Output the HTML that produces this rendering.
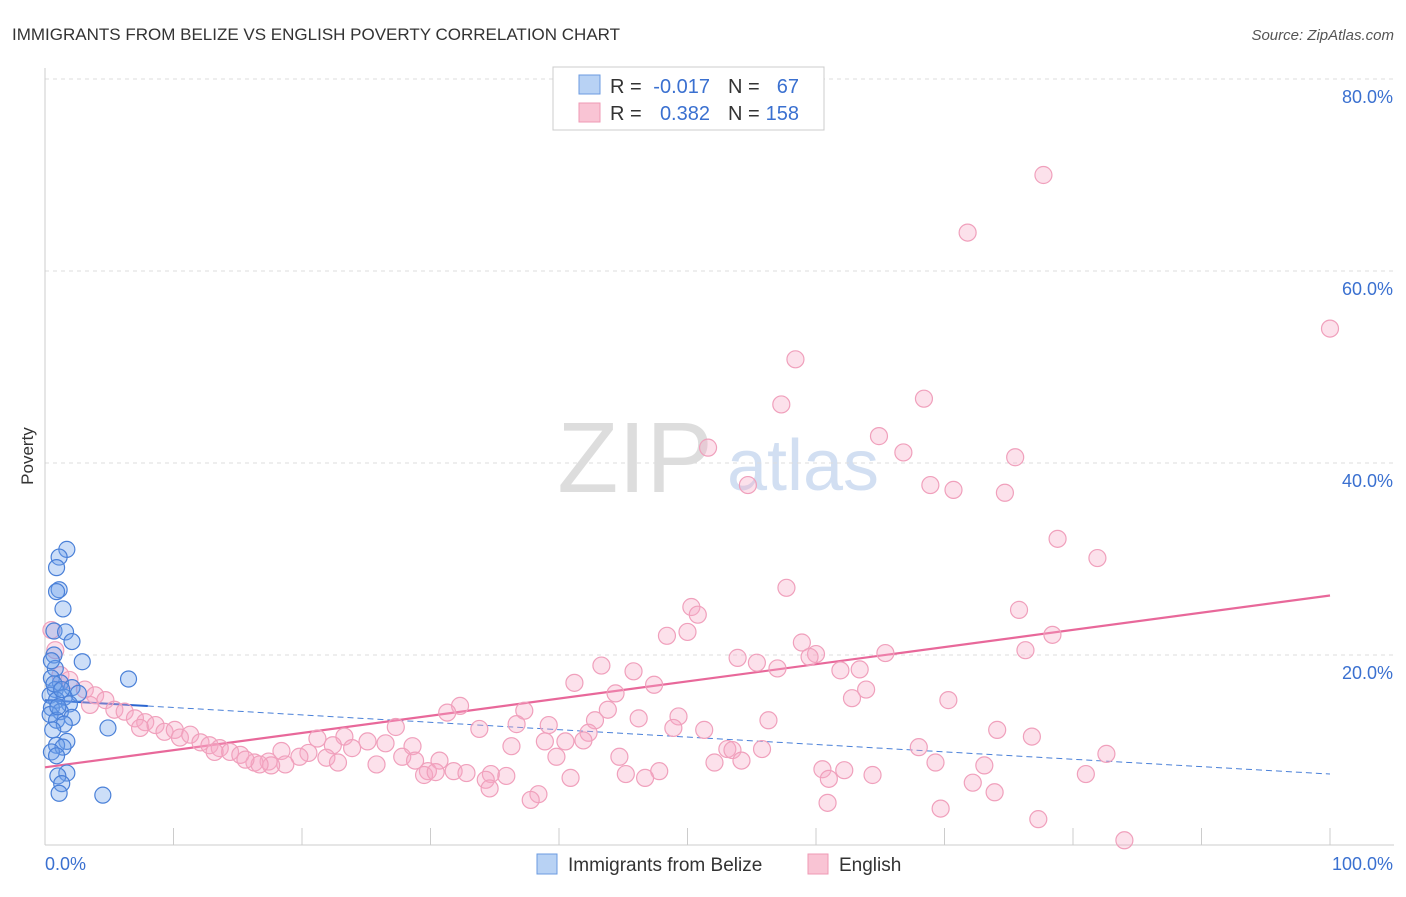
<!DOCTYPE html>
<html><head><meta charset="utf-8"><style>
body{margin:0;background:#fff;font-family:"Liberation Sans",sans-serif;}
svg text{font-family:"Liberation Sans",sans-serif;}
</style></head><body>
<svg id="chart" width="1406" height="892">
<text x="12" y="40" font-size="17" fill="#333">IMMIGRANTS FROM BELIZE VS ENGLISH POVERTY CORRELATION CHART</text>
<text x="1394" y="40" font-size="15" fill="#555" font-style="italic" text-anchor="end">Source: ZipAtlas.com</text>
<text x="33" y="456" font-size="17" fill="#333" transform="rotate(-90 33 456)" text-anchor="middle">Poverty</text>
<g><text x="635" y="492" font-size="100" fill="#ddd" font-family="Liberation Serif" text-anchor="middle">ZIP</text><text x="803" y="490" font-size="72" fill="#c8d8f0" text-anchor="middle" opacity="0.8">atlas</text></g>
<g id="grid"></g><g id="axes"></g><g id="trend"></g><g id="pts"></g>
<g>
<rect x="553" y="67" width="271" height="63" fill="#fff" stroke="#ccc"/>
<rect x="579" y="75" width="21" height="19" fill="#b8d2f4" stroke="#6b9be0"/>
<rect x="579" y="103" width="21" height="19" fill="#f9c4d4" stroke="#ef9ab4"/>
<text x="610" y="93" font-size="20" fill="#333">R =</text>
<text x="710" y="93" font-size="20" fill="#3a70d0" text-anchor="end">-0.017</text>
<text x="728" y="93" font-size="20" fill="#333">N =</text>
<text x="799" y="93" font-size="20" fill="#3a70d0" text-anchor="end">67</text>
<text x="610" y="120" font-size="20" fill="#333">R =</text>
<text x="710" y="120" font-size="20" fill="#3a70d0" text-anchor="end">0.382</text>
<text x="728" y="120" font-size="20" fill="#333">N =</text>
<text x="799" y="120" font-size="20" fill="#3a70d0" text-anchor="end">158</text>
</g>
<g>
<rect x="537" y="854" width="20" height="20" fill="#b8d2f4" stroke="#6b9be0"/>
<text x="568" y="871" font-size="19" fill="#333">Immigrants from Belize</text>
<rect x="808" y="854" width="20" height="20" fill="#f9c4d4" stroke="#ef9ab4"/>
<text x="839" y="871" font-size="19" fill="#333">English</text>
</g>
</svg>
<script>
const yTicks=[20,40,60,80];
const xTickLabels=["0.0%","100.0%"];
const blueX=[1.7,1.1,0.9,1.1,0.9,1.4,0.7,1.6,2.1,0.7,2.9,0.8,6.5,0.5,1.2,2.1,0.8,2.6,0.4,1.5,0.9,1.9,0.5,1.2,0.4,2.1,0.9,1.5,4.9,0.6,1.7,0.9,1.4,0.5,0.9,1.7,1.0,1.3,1.1,4.5,0.5,1.0,0.7,1.3];
const blueY=[31.0,30.2,29.1,26.8,26.6,24.8,22.5,22.4,21.4,20.0,19.3,18.6,17.5,17.6,17.1,16.6,16.4,16.0,15.8,15.6,15.3,14.9,14.5,14.1,13.8,13.5,13.2,12.8,12.4,12.2,11.0,10.6,10.4,9.9,9.5,7.7,7.4,6.6,5.6,5.4,19.4,14.6,17.0,16.4];
const pinkX=[77.7,71.8,100,58.4,57.3,68.4,51.6,64.9,66.8,75.5,54.7,68.9,70.7,74.7,78.8,81.9,57.7,50.3,50.8,75.8,48.4,50.0,58.9,78.4,76.3,60.0,65.4,59.5,53.9,55.4,57.0,43.3,45.8,61.9,63.4,41.2,47.4,44.4,63.9,62.8,70.3,32.3,31.3,37.3,43.8,49.3,46.2,42.8,56.3,36.7,39.2,27.3,33.8,48.9,51.3,74.1,42.3,76.8,21.2,23.3,25.1,38.9,40.5,41.9,22.4,23.9,26.5,28.6,36.3,53.1,53.5,55.8,68.0,82.6,18.4,20.5,19.8,21.9,27.8,28.8,30.7,39.8,44.7,52.1,54.2,69.3,73.1,17.4,16.3,22.8,25.8,18.7,17.6,16.7,29.8,31.8,29.5,30.4,32.8,34.7,35.9,45.2,47.8,46.7,40.9,60.5,62.2,64.4,81.0,34.3,61.0,34.6,72.2,73.9,38.4,37.8,60.9,69.7,77.3,84.0,0.5,0.8,1.2,1.9,3.1,3.9,4.7,3.5,5.4,6.2,7.0,7.8,7.4,8.6,9.3,10.1,10.5,11.3,12.1,12.8,13.6,14.4,15.2,13.2,15.6];
const pinkY=[70.0,64.0,54.0,50.8,46.1,46.7,41.6,42.8,41.1,40.6,37.7,37.7,37.2,36.9,32.1,30.1,27.0,25.0,24.2,24.7,22.0,22.4,21.3,22.1,20.5,20.1,20.2,19.8,19.7,19.2,18.6,18.9,18.3,18.4,18.5,17.1,16.9,16.0,16.4,15.5,15.3,14.7,14.0,14.2,14.3,13.6,13.4,13.2,13.2,12.8,12.7,12.5,12.3,12.4,12.2,12.2,11.9,11.5,11.3,11.5,11.0,11.0,11.0,11.1,10.6,10.3,10.8,10.5,10.5,10.2,10.1,10.2,10.4,9.7,10.0,9.8,9.4,9.3,9.4,9.0,9.0,9.4,9.4,8.8,9.0,8.8,8.5,8.9,8.8,8.8,8.6,8.6,8.5,8.6,7.9,7.9,7.5,7.8,7.7,7.6,7.4,7.6,7.9,7.2,7.2,8.1,8.0,7.5,7.6,7.0,7.1,6.1,6.7,5.7,5.5,4.9,4.6,4.0,2.9,0.7,22.6,20.5,17.9,17.4,16.4,15.8,15.3,14.8,14.3,14.1,13.4,13.0,12.4,12.7,12.0,12.2,11.4,11.7,10.9,10.6,10.3,9.9,9.6,9.9,9.1];
const blueTrend=[15.3,7.6];
const pinkTrend=[8.3,26.2];
const NS="http://www.w3.org/2000/svg";
const X=v=>45+v*12.85, Y=v=>847-v*9.6;
function mk(tag,attrs,parent){const e=document.createElementNS(NS,tag);for(const k in attrs)e.setAttribute(k,attrs[k]);parent.appendChild(e);return e;}
const grid=document.getElementById('grid'),axes=document.getElementById('axes'),trend=document.getElementById('trend'),pts=document.getElementById('pts');
yTicks.forEach(t=>{
 const l=mk('line',{x1:45,x2:1394,y1:Y(t),y2:Y(t),stroke:'#ddd','stroke-dasharray':'4,4'},grid);
 
 
 const tx=mk('text',{x:1393,y:Y(t)+24,'font-size':18,fill:'#3a70d0','text-anchor':'end'},grid);
 tx.textContent=t.toFixed(1)+'%';
 
 
});
const ax=mk('line',{x1:45,x2:1394,y1:845,y2:845,stroke:'#ccc'},axes);


const ay=mk('line',{x1:45,x2:45,y1:68,y2:845,stroke:'#ccc'},axes);


for(let i=0;i<=10;i++){const t=mk('line',{x1:X(i*10),x2:X(i*10),y1:828,y2:845,stroke:'#ccc'},axes);
 
 }
const xl0=mk('text',{x:45,y:870,'font-size':18,fill:'#3a70d0'},axes);xl0.textContent=xTickLabels[0];


const xl1=mk('text',{x:1393,y:870,'font-size':18,fill:'#3a70d0','text-anchor':'end'},axes);xl1.textContent=xTickLabels[1];


pinkX.forEach((v,i)=>{const c=mk('circle',{cx:X(v),cy:Y(pinkY[i]),r:8.5,fill:'rgba(246,170,198,0.35)',stroke:'#f0a0bc','stroke-width':1.2},pts);
 
 });
blueX.forEach((v,i)=>{const c=mk('circle',{cx:X(v),cy:Y(blueY[i]),r:8,fill:'rgba(110,160,235,0.35)',stroke:'#4a80d8','stroke-width':1.2},pts);
 
 });
const bAt=v=>blueTrend[0]+(blueTrend[1]-blueTrend[0])*v/100;
const b1=mk('line',{x1:X(0),y1:Y(bAt(0)),x2:X(8),y2:Y(bAt(8)),stroke:'#2a65d0','stroke-width':2},trend);


const b2=mk('line',{x1:X(8),y1:Y(bAt(8)),x2:X(100),y2:Y(bAt(100)),stroke:'#4a80d8','stroke-width':1,'stroke-dasharray':'6,4'},trend);


const p=mk('line',{x1:X(0),y1:Y(pinkTrend[0]),x2:X(100),y2:Y(pinkTrend[1]),stroke:'#e8689a','stroke-width':2.2},trend);


</script>
</body></html>
